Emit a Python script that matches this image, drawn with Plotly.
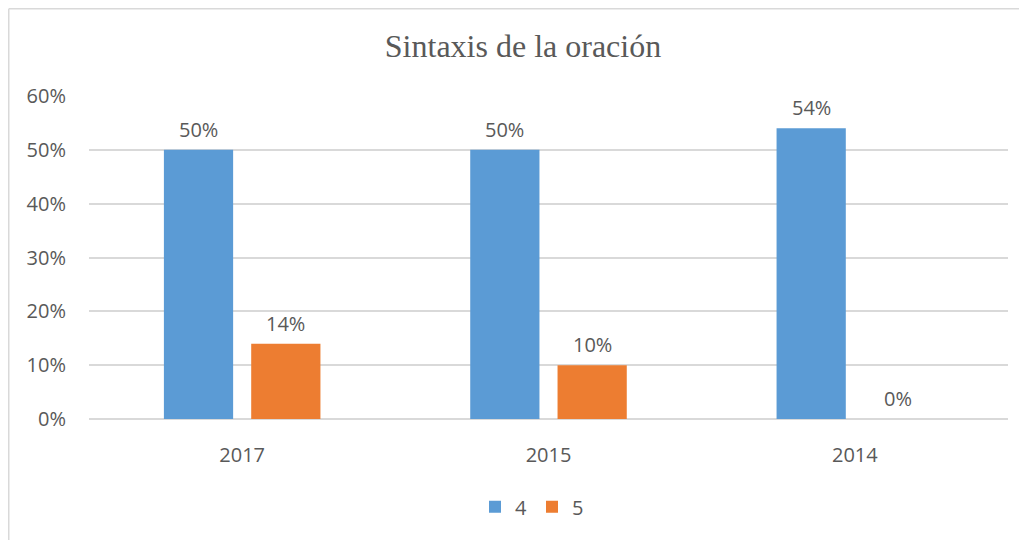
import plotly.graph_objects as go

categories = ["2017", "2015", "2014"]
series_names = ["4", "5"]
values_4 = [0.50, 0.50, 0.54]
values_5 = [0.14, 0.10, 0.00]
colors = ["#5B9BD5", "#ED7D31"]
y_ticks = [0, 0.1, 0.2, 0.3, 0.4, 0.5, 0.6]
y_tick_labels = ["0%", "10%", "20%", "30%", "40%", "50%", "60%"]

# page body has an 8px default margin, so the figure is slightly smaller
W, H = 1019, 532
ml, mr, mt, mb = 81, 19, 88, 121
pw, ph = W - ml - mr, H - mt - mb

font_main = "Open Sans"
fs = 20
txt_color = "#595959"

fig = go.Figure()
for name, vals, col in zip(series_names, [values_4, values_5], colors):
    fig.add_trace(go.Bar(x=categories, y=vals, name=name, marker_color=col,
                         marker_line_width=0))

bargap = 0.43
bargroupgap = 0.207
cat_w = pw / len(categories)
slot = cat_w * (1 - bargap) / 2

annotations = []
for si, vals in enumerate([values_4, values_5]):
    shift = (si - 0.5) * slot
    for ci, v in enumerate(vals):
        # category axis: annotation x given as the category index
        annotations.append(dict(x=ci, y=v, xref="x", yref="y", text=f"{v:.0%}",
                                showarrow=False, xshift=shift, yshift=5,
                                yanchor="bottom",
                                font=dict(family=font_main, size=fs, color=txt_color)))

fig.update_layout(
    width=W, height=H,
    margin=dict(l=ml, r=mr, t=mt, b=mb, autoexpand=False),
    paper_bgcolor="white", plot_bgcolor="white",
    barmode="group", bargap=bargap, bargroupgap=bargroupgap,
    title=dict(text="Sintaxis de la oración", x=515 / W, xref="container",
               xanchor="center",
               y=1 - 38 / H, yref="container", yanchor="middle",
               font=dict(family="Liberation Serif", size=32, color=txt_color)),
    xaxis=dict(type="category", showgrid=False, showline=False, ticks="",
               ticklabelstandoff=22,
               tickfont=dict(family=font_main, size=fs, color=txt_color)),
    yaxis=dict(range=[0, 0.6], tickvals=y_ticks, ticktext=y_tick_labels,
               showgrid=True, gridcolor="#D9D9D9", gridwidth=1.5,
               zeroline=True, zerolinecolor="#D9D9D9", zerolinewidth=1.5,
               showline=False, ticks="", ticklabelstandoff=22,
               tickfont=dict(family=font_main, size=fs, color=txt_color)),
    showlegend=True,
    legend=dict(orientation="h", x=(524 - ml) / pw, xanchor="center",
                y=-0.272, yanchor="middle",
                font=dict(family=font_main, size=fs, color=txt_color),
                itemwidth=30, traceorder="normal"),
    annotations=annotations,
    shapes=[
        dict(type="line", xref="paper", yref="paper",
             x0=(0.75 - ml) / pw, x1=(W + 5 - ml) / pw,
             y0=(H - mb - 0.75) / ph, y1=(H - mb - 0.75) / ph,
             line=dict(color="#D9D9D9", width=1.5)),
        dict(type="line", xref="paper", yref="paper",
             x0=(0.75 - ml) / pw, x1=(0.75 - ml) / pw,
             y0=(H - mb - 0.75) / ph, y1=-(mb + 10) / ph,
             line=dict(color="#D9D9D9", width=1.5)),
    ],
)

fig.write_html("out.html")
